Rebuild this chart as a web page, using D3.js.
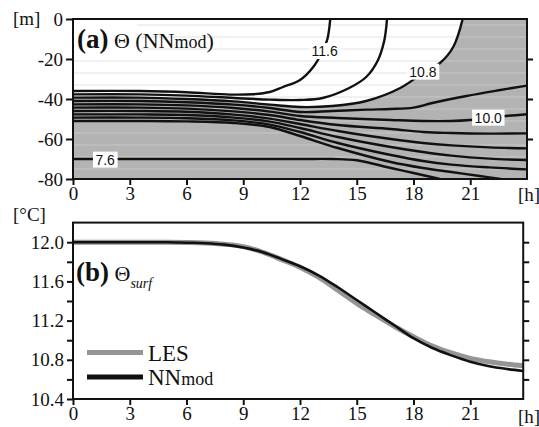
<!DOCTYPE html>
<html><head><meta charset="utf-8">
<script src="https://cdn.jsdelivr.net/npm/d3@7"></script>
<style>body{margin:0;background:#fff} svg{display:block}</style>
</head><body>
<svg id="c" width="539" height="427"></svg>
<script>
// ---------- data ----------
const hourTicks = [0, 3, 6, 9, 12, 15, 18, 21];
const depthTicks = [0, -20, -40, -60, -80];
const depthRightTicks = [-20, -40, -60];
const sstTicks = [10.4, 10.6, 10.8, 11.0, 11.2, 11.4, 11.6, 11.8, 12.0];
const sstLabelTicks = [10.4, 10.8, 11.2, 11.6, 12.0];
const stripeDepths = [-3, -9, -15, -21, -27, -33, -39, -45, -51, -57, -63, -69, -75];
const contourLevels = [11.6, 11.2, 10.8, 10.4, 10.0, 9.6, 9.2, 8.8, 8.4, 8.0, 7.6];

// contour lines: [hour, depth m]
const c116 = [[0,-36],[3.5,-36],[6,-36.6],[8.3,-37.8],[9.5,-37.6],[10.4,-36.5],[11.1,-34],[12,-30.5],[12.7,-24],[13.2,-16],[13.45,-10],[13.6,0]];
const c112 = [[0,-37.7],[3.5,-37.7],[6,-38.3],[8.5,-39.5],[10.4,-40.3],[12,-40.5],[13.2,-39.5],[14.6,-34.5],[15.5,-29],[16.1,-21],[16.45,-11],[16.6,0]];
const c108 = [[0,-39.3],[3.5,-39.3],[6,-40],[8.5,-41.2],[10.4,-42.8],[12,-44],[13.7,-43.5],[15.5,-41],[17.3,-34.5],[18.5,-27],[19.4,-22],[20.1,-14],[20.6,0]];
const c104 = [[0,-41],[3.5,-41],[6,-41.6],[8.5,-42.8],[10.4,-44.5],[12,-46.5],[13.7,-46],[15.5,-45.3],[16.8,-45],[18,-44.3],[19,-42],[20.8,-38.5],[22.6,-35.5],[24,-33.3]];
const c100 = [[0,-42.7],[3.5,-42.7],[6,-43.2],[8.5,-44.5],[10.4,-46.3],[12,-48.5],[14,-49.5],[16.8,-50.5],[18.5,-51],[20,-51],[21,-50.5],[22,-49.5],[23,-48.4],[24,-47.6]];
const c096 = [[0,-44.3],[3.5,-44.3],[6,-44.8],[8.5,-46.2],[10.4,-48],[12,-50.5],[14,-53],[16.8,-55],[18.5,-56.5],[20,-57],[22,-57.3],[24,-57.2]];
const c092 = [[0,-46],[3.5,-46],[6,-46.4],[8.5,-47.8],[10.4,-49.8],[12,-52.5],[14,-56],[16.8,-60],[18.5,-62],[20,-63.2],[22,-64.2],[24,-64.7]];
const c088 = [[0,-47.7],[3.5,-47.7],[6,-48],[8.5,-49.3],[10.4,-51.3],[12,-54.5],[14,-59],[16.8,-64],[18.5,-66.5],[20,-68.3],[22,-69.8],[24,-70.5]];
const c084 = [[0,-49.3],[3.5,-49.3],[6,-49.6],[8.5,-50.7],[10.4,-52.8],[12,-56.5],[14,-62],[16.8,-68],[18.5,-71],[20,-72.8],[22,-74.2],[24,-75.2]];
const c080 = [[0,-51],[3.5,-51],[6,-51.2],[8.5,-52],[10.4,-54],[12,-58.5],[14,-64.5],[16.8,-71.5],[18.5,-74.5],[20,-76.5],[21.5,-78.5],[22.6,-80]];
const c076 = [[0,-70],[6,-70],[12,-70],[13.7,-70],[15,-70.6],[16.8,-74.5],[18,-77],[19.4,-80]];
const contourLines = [c116, c112, c108, c104, c100, c096, c092, c088, c084, c080, c076];
const contourLabels = [
  {text: "11.6", t: 13.3, d: -16},
  {text: "10.8", t: 18.5, d: -26.3},
  {text: "10.0", t: 21.95, d: -49.3},
  {text: "7.6",  t: 1.7,  d: -70.3}
];

// surface temperature
const timeSurf = [0, 3, 5, 6, 7, 8, 9, 10, 11, 12, 13, 14, 15, 16, 17, 18, 19, 20, 21, 22, 23, 23.8];
const lesSST = [12.0, 12.0, 12.0, 11.998, 11.993, 11.98, 11.955, 11.9, 11.825, 11.745, 11.64, 11.51, 11.375, 11.255, 11.14, 11.035, 10.94, 10.87, 10.815, 10.78, 10.755, 10.74];
const nnSST  = [12.0, 12.0, 12.0, 11.995, 11.99, 11.975, 11.945, 11.9, 11.83, 11.755, 11.66, 11.54, 11.41, 11.28, 11.15, 11.02, 10.92, 10.845, 10.78, 10.735, 10.705, 10.685];

// ---------- layout ----------
const svg = d3.select("#c");
const serif = "'Liberation Serif', 'Times New Roman', serif";
const sans = "'Liberation Sans', Arial, sans-serif";
const TF = 19;
const X0 = 73;
const xTop = d3.scaleLinear().domain([0, 24]).range([X0, 527]);
const yTop = d3.scaleLinear().domain([0, -80]).range([19, 179]);
const xBot = d3.scaleLinear().domain([0, 24]).range([X0, 527]);
const botRight = 23.8;
const yBot = d3.scaleLinear().domain([10.4, 12.2]).range([399, 222.6]);

// ---------- panel a ----------
const gA = svg.append("g");
svg.append("clipPath").attr("id", "clipA").append("rect")
  .attr("x", xTop(0)).attr("y", yTop(0)).attr("width", xTop(24) - xTop(0)).attr("height", yTop(-80) - yTop(0));
const plotA = gA.append("g").attr("clip-path", "url(#clipA)");

plotA.selectAll("line.s1").data(stripeDepths).join("line")
  .attr("x1", xTop(0)).attr("x2", xTop(24))
  .attr("y1", d => yTop(d)).attr("y2", d => yTop(d))
  .attr("stroke", "#e2e2e2").attr("stroke-width", 1);

const cline = d3.line().x(d => xTop(d[0])).y(d => yTop(d[1])).curve(d3.curveCatmullRom.alpha(0.5));
const fillPath = cline(c108) + `L${xTop(24)},${yTop(0)}L${xTop(24)},${yTop(-80)}L${xTop(0)},${yTop(-80)}Z`;
plotA.append("path").attr("d", fillPath).attr("fill", "#b3b3b3");
svg.append("clipPath").attr("id", "clipFill").append("path").attr("d", fillPath);
plotA.append("g").attr("clip-path", "url(#clipFill)")
  .selectAll("line").data(stripeDepths).join("line")
  .attr("x1", xTop(0)).attr("x2", xTop(24))
  .attr("y1", d => yTop(d)).attr("y2", d => yTop(d))
  .attr("stroke", "#c6c6c6").attr("stroke-width", 1);

plotA.append("rect").attr("x", xTop(0)).attr("y", yTop(0)).attr("width", 64).attr("height", 37).attr("fill", "#fff");

plotA.selectAll("path.cl").data(contourLines).join("path")
  .attr("class", "cl").attr("d", cline).attr("fill", "none")
  .attr("stroke", "#111").attr("stroke-width", 2.4);

const labG = plotA.selectAll("g.lab").data(contourLabels).join("g")
  .attr("transform", d => `translate(${xTop(d.t)},${yTop(d.d)})`);
labG.each(function(d) {
  const g = d3.select(this);
  const t = g.append("text").text(d.text).attr("font-family", sans).attr("font-size", 14)
    .attr("text-anchor", "middle").attr("dy", "0.36em").attr("fill", "#111");
  const bb = t.node().getBBox();
  g.insert("rect", "text").attr("x", bb.x - 2.5).attr("y", bb.y)
    .attr("width", bb.width + 5).attr("height", bb.height).attr("fill", "#fff");
});

gA.append("rect").attr("x", xTop(0)).attr("y", yTop(0)).attr("width", xTop(24) - xTop(0)).attr("height", yTop(-80) - yTop(0))
  .attr("fill", "none").attr("stroke", "#111").attr("stroke-width", 2);

function styleAxis(g) {
  g.select(".domain").remove();
  g.selectAll(".tick line").attr("stroke", "#111").attr("stroke-width", 2);
  g.selectAll(".tick text").attr("font-family", serif).attr("font-size", TF).attr("fill", "#111");
}
gA.append("g").attr("transform", `translate(0,${yTop(-80)})`)
  .call(d3.axisBottom(xTop).tickValues(hourTicks).tickSize(6).tickPadding(2).tickFormat(d => String(d)))
  .call(styleAxis);
gA.append("g").attr("transform", `translate(${xTop(0)},0)`)
  .call(d3.axisLeft(yTop).tickValues(depthTicks).tickSize(7).tickPadding(3).tickFormat(d => String(d)))
  .call(styleAxis);
gA.append("g").attr("transform", `translate(${xTop(24)},0)`)
  .call(d3.axisRight(yTop).tickValues(depthRightTicks).tickSize(6).tickFormat(""))
  .call(styleAxis);
gA.append("text").attr("x", 529).attr("y", 201).attr("text-anchor", "middle")
  .attr("font-family", serif).attr("font-size", TF).attr("fill", "#111").text("[h]");
gA.append("text").attr("x", 13).attr("y", 25).attr("font-family", serif).attr("font-size", TF).attr("fill", "#111").text("[m]");

const tA = gA.append("text").attr("x", 77).attr("y", 48).attr("font-family", serif).attr("fill", "#111");
tA.append("tspan").attr("font-weight", "bold").attr("font-size", 27).text("(a)");
tA.append("tspan").attr("font-size", 22).text(" Θ (NN");
tA.append("tspan").attr("font-size", 18).text("mod");
tA.append("tspan").attr("font-size", 22).text(")");

// ---------- panel b ----------
const gB = svg.append("g");
const bL = xBot(0), bR = xBot(botRight), bT = yBot(12.2), bB = yBot(10.4);
const sline = (vals) => d3.line().x((d, i) => xBot(timeSurf[i])).y(d => yBot(d)).curve(d3.curveMonotoneX)(vals);
gB.append("path").attr("d", sline(lesSST)).attr("fill", "none").attr("stroke", "#959595").attr("stroke-width", 5);
gB.append("path").attr("d", sline(nnSST)).attr("fill", "none").attr("stroke", "#111").attr("stroke-width", 2.6);

gB.append("rect").attr("x", bL).attr("y", bT).attr("width", bR - bL).attr("height", bB - bT)
  .attr("fill", "none").attr("stroke", "#111").attr("stroke-width", 2);
gB.append("g").attr("transform", `translate(0,${bB})`)
  .call(d3.axisBottom(xBot).tickValues(hourTicks).tickSize(6).tickPadding(2).tickFormat(d => String(d)))
  .call(styleAxis);
gB.append("g").attr("transform", `translate(${bL},0)`)
  .call(d3.axisLeft(yBot).tickValues(sstTicks).tickSize(6).tickPadding(3)
    .tickFormat(d => sstLabelTicks.some(v => Math.abs(v - d) < 1e-6) ? d.toFixed(1) : ""))
  .call(styleAxis);
gB.append("g").attr("transform", `translate(${bR},0)`)
  .call(d3.axisRight(yBot).tickValues(sstTicks.filter(v => v > 10.5)).tickSize(6).tickFormat(""))
  .call(styleAxis);
gB.append("text").attr("x", 529).attr("y", 423).attr("text-anchor", "middle")
  .attr("font-family", serif).attr("font-size", TF).attr("fill", "#111").text("[h]");
gB.append("text").attr("x", 13).attr("y", 221).attr("font-family", serif).attr("font-size", TF).attr("fill", "#111").text("[°C]");

const tB = gB.append("text").attr("x", 76).attr("y", 281).attr("font-family", serif).attr("fill", "#111");
tB.append("tspan").attr("font-weight", "bold").attr("font-size", 27).text("(b)");
tB.append("tspan").attr("font-size", 22).text(" Θ");
tB.append("tspan").attr("font-size", 14).attr("font-style", "italic").attr("dy", 7).text("surf");

const legend = [{name: "LES", color: "#959595", y: 352.5}, {name: "NN", sub: "mod", color: "#111", y: 377}];
const lg = gB.selectAll("g.leg").data(legend).join("g");
lg.append("line").attr("x1", 87).attr("x2", 143).attr("y1", d => d.y).attr("y2", d => d.y)
  .attr("stroke", d => d.color).attr("stroke-width", 5);
const lt = lg.append("text").attr("x", 148).attr("y", d => d.y + 8).attr("font-family", serif).attr("font-size", 23).attr("fill", "#111");
lt.append("tspan").text(d => d.name);
lt.filter(d => d.sub).append("tspan").attr("font-size", 18).text(d => d.sub);
</script>
</body></html>
